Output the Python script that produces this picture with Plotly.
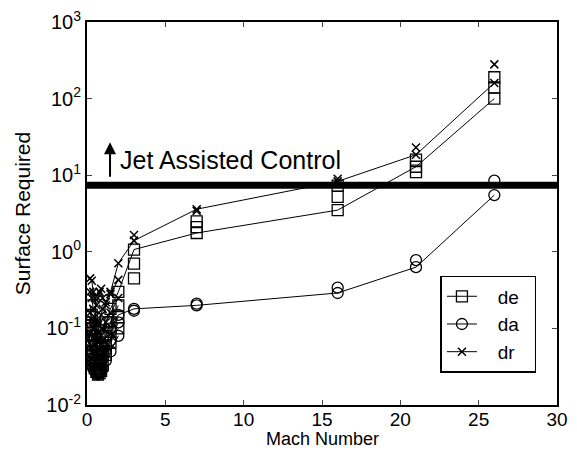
import plotly.graph_objects as go

# ---------------- data ----------------
mach_low = [0.2, 0.3, 0.4, 0.5, 0.6, 0.7, 0.8, 0.9, 1.0, 1.2, 1.5, 2.0]
mach_high = [3, 7, 16, 21, 26]
mach_all = mach_low + mach_high

# elevator (de) - main connected case and extra cases
de_main = [0.2, 0.15, 0.1, 0.08, 0.06, 0.05, 0.05, 0.06, 0.08, 0.12, 0.18, 0.3,
           1.07, 1.76, 3.5, 12.9, 100]
de_low_b = [0.1, 0.07, 0.05, 0.04, 0.035, 0.03, 0.03, 0.035, 0.045, 0.06, 0.09, 0.14]
de_low_c = [0.06, 0.045, 0.035, 0.03, 0.027, 0.025, 0.026, 0.028, 0.033, 0.045, 0.065, 0.1]
de_low_d = [0.14, 0.11, 0.08, 0.06, 0.045, 0.04, 0.038, 0.045, 0.055, 0.08, 0.12, 0.2]
de_high_b = [0.45, 2.1, 5.2, 11, 140]
de_high_c = [0.7, 2.5, 7.3, 16, 190]

# aileron (da)
da_main = [0.12, 0.09, 0.07, 0.06, 0.05, 0.045, 0.045, 0.05, 0.06, 0.08, 0.1, 0.15,
           0.18, 0.2, 0.29, 0.63, 5.5]
da_low_b = [0.07, 0.05, 0.04, 0.035, 0.03, 0.028, 0.03, 0.033, 0.04, 0.05, 0.07, 0.12]
da_low_c = [0.04, 0.033, 0.03, 0.028, 0.026, 0.025, 0.026, 0.028, 0.03, 0.038, 0.05, 0.08]
da_high_b = [0.17, 0.21, 0.34, 0.78, 8.5]

# rudder (dr)
dr_main = [0.45, 0.42, 0.3, 0.25, 0.2, 0.25, 0.3, 0.33, 0.25, 0.22, 0.3, 0.71,
           1.4, 3.6, 8.3, 18.5, 160]
dr_low_b = [0.3, 0.25, 0.18, 0.14, 0.12, 0.11, 0.12, 0.15, 0.18, 0.2, 0.28, 0.43]
dr_low_c = [0.16, 0.13, 0.1, 0.08, 0.07, 0.065, 0.07, 0.08, 0.1, 0.12, 0.16, 0.25]
dr_high_b = [1.66, 3.4, 9.0, 23, 280]

jet_level = 7.4
jet_x = [0, 30]

y_tickvals = [0.01, 0.1, 1, 10, 100, 1000]
y_ticktext = ["10<sup>-2</sup>", "10<sup>-1</sup>", "10<sup>0</sup>",
              "10<sup>1</sup>", "10<sup>2</sup>", "10<sup>3</sup>"]

FONT = "Liberation Sans, Arial, sans-serif"
PAD = "\u00a0\u00a0\u00a0"

fig = go.Figure()

# thick jet-assisted-control level
fig.add_trace(go.Scatter(x=jet_x, y=[jet_level, jet_level], mode="lines",
                         line=dict(color="black", width=7), showlegend=False,
                         hoverinfo="skip"))

sq = dict(symbol="square-open", size=11, color="black", line=dict(width=1.3))
ci = dict(symbol="circle-open", size=11, color="black", line=dict(width=1.3))
xx = dict(symbol="x-thin", size=8, color="black", line=dict(width=1.5, color="black"))
ln = dict(color="black", width=1)

# low-Mach extra cases (lines + markers)
for vals in (de_low_b, de_low_c, de_low_d):
    fig.add_trace(go.Scatter(x=mach_low, y=vals, mode="lines+markers", line=ln,
                             marker=sq, showlegend=False, legendgroup="de"))
for vals in (da_low_b, da_low_c):
    fig.add_trace(go.Scatter(x=mach_low, y=vals, mode="lines+markers", line=ln,
                             marker=ci, showlegend=False, legendgroup="da"))
for vals in (dr_low_b, dr_low_c):
    fig.add_trace(go.Scatter(x=mach_low, y=vals, mode="lines+markers", line=ln,
                             marker=xx, showlegend=False, legendgroup="dr"))

# high-Mach extra markers
for vals in (de_high_b, de_high_c):
    fig.add_trace(go.Scatter(x=mach_high, y=vals, mode="markers",
                             marker=sq, showlegend=False, legendgroup="de"))
fig.add_trace(go.Scatter(x=mach_high, y=da_high_b, mode="markers",
                         marker=ci, showlegend=False, legendgroup="da"))
fig.add_trace(go.Scatter(x=mach_high, y=dr_high_b, mode="markers",
                         marker=xx, showlegend=False, legendgroup="dr"))

# main connected series (legend entries)
fig.add_trace(go.Scatter(x=mach_all, y=de_main, mode="lines+markers", name=PAD + "de\u00a0\u00a0",
                         line=ln, marker=sq, legendgroup="de"))
fig.add_trace(go.Scatter(x=mach_all, y=da_main, mode="lines+markers", name=PAD + "da",
                         line=ln, marker=ci, legendgroup="da"))
fig.add_trace(go.Scatter(x=mach_all, y=dr_main, mode="lines+markers", name=PAD + "dr",
                         line=ln, marker=xx, legendgroup="dr"))

# annotation: arrow + text
fig.add_annotation(x=1.47, y=1.43, xref="x", yref="y", text="", showarrow=True,
                   ax=0, ay=36, arrowhead=2, arrowsize=1.2, arrowwidth=2,
                   arrowcolor="black")
fig.add_annotation(x=2.0, y=1.2, xref="x", yref="y", text="Jet Assisted Control",
                   showarrow=False, xanchor="left", yanchor="middle",
                   font=dict(family=FONT, size=25, color="black"))
# x-axis title placed precisely below the tick labels
fig.add_annotation(x=0.5, y=-0.0888, xref="paper", yref="paper", text="Mach Number",
                   showarrow=False, xanchor="center", yanchor="middle", borderpad=0,
                   font=dict(family=FONT, size=18, color="black"))

fig.update_layout(
    width=577, height=450,
    margin=dict(l=87, r=20, t=22, b=45),
    paper_bgcolor="white", plot_bgcolor="white",
    font=dict(family=FONT, size=20, color="black"),
    showlegend=True,
    legend=dict(x=0.752, y=0.337, xanchor="left", yanchor="top",
                bgcolor="white", bordercolor="black", borderwidth=1.5,
                font=dict(size=19), tracegroupgap=0),
)
fig.update_xaxes(range=[0, 30], dtick=5, ticks="inside", ticklen=5,
                 mirror="ticks", showline=True, linewidth=2, linecolor="black",
                 showgrid=False, zeroline=False, tickfont=dict(size=19),
                 ticklabelstandoff=-4, automargin=False)
fig.update_yaxes(type="log", range=[-2, 3], tickvals=y_tickvals, ticktext=y_ticktext,
                 ticks="inside", ticklen=5, mirror="ticks", showline=True,
                 linewidth=2, linecolor="black", showgrid=False, tickfont=dict(size=20),
                 automargin=False,
                 title=dict(text="Surface Required", standoff=10, font=dict(size=21)))

fig.write_html("out.html")
